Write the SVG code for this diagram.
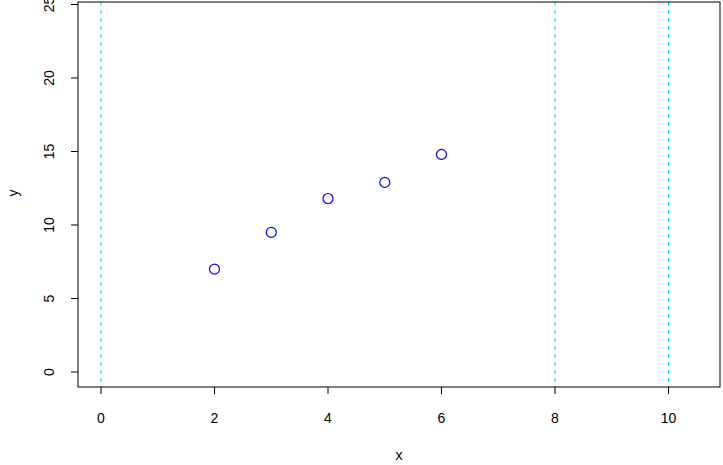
<svg xmlns="http://www.w3.org/2000/svg" width="723" height="465" viewBox="0 0 723 465">
<style>
text{font-family:"Liberation Sans",Arial,sans-serif;font-size:14px;fill:#000}
.ax{stroke:#000;stroke-width:1;fill:none}
.vl{stroke:#00e5e5;stroke-width:1;stroke-dasharray:4,4}
.pt{fill:none;stroke:#0000ff;stroke-width:1.2}
</style>
<rect width="723" height="465" fill="#fff"/>
<g id="vlines">
<line class="vl" x1="101" y1="2" x2="101" y2="387"/>
<line class="vl" x1="555" y1="2" x2="555" y2="387"/>
<line class="vl" x1="668.5" y1="2" x2="668.5" y2="387"/>
</g>
<g id="points">
<circle class="pt" cx="214.5" cy="269.1" r="5"/>
<circle class="pt" cx="271.3" cy="232.4" r="5"/>
<circle class="pt" cx="328" cy="198.5" r="5"/>
<circle class="pt" cx="384.8" cy="182.4" r="5"/>
<circle class="pt" cx="441.5" cy="154.4" r="5"/>
</g>
<g id="axes">
<rect class="ax" x="78" y="2" width="642" height="385"/>
<path class="ax" d="M101 387V394M214.5 387V394M328 387V394M441.5 387V394M555 387V394M668.5 387V394"/>
<path class="ax" d="M78 372H71M78 298.5H71M78 225H71M78 151.5H71M78 78H71M78 4.5H71"/>
<g text-anchor="middle">
<text x="101" y="423">0</text><text x="214.5" y="423">2</text><text x="328" y="423">4</text><text x="441.5" y="423">6</text><text x="555" y="423">8</text><text x="668.5" y="423">10</text>
<text x="399" y="460">x</text>
<text transform="translate(54,372) rotate(-90)">0</text>
<text transform="translate(54,298.5) rotate(-90)">5</text>
<text transform="translate(54,225) rotate(-90)">10</text>
<text transform="translate(54,151.5) rotate(-90)">15</text>
<text transform="translate(54,78) rotate(-90)">20</text>
<text transform="translate(54,4.5) rotate(-90)">25</text>
<text transform="translate(18,193) rotate(-90)">y</text>
</g>
</g>
</svg>
